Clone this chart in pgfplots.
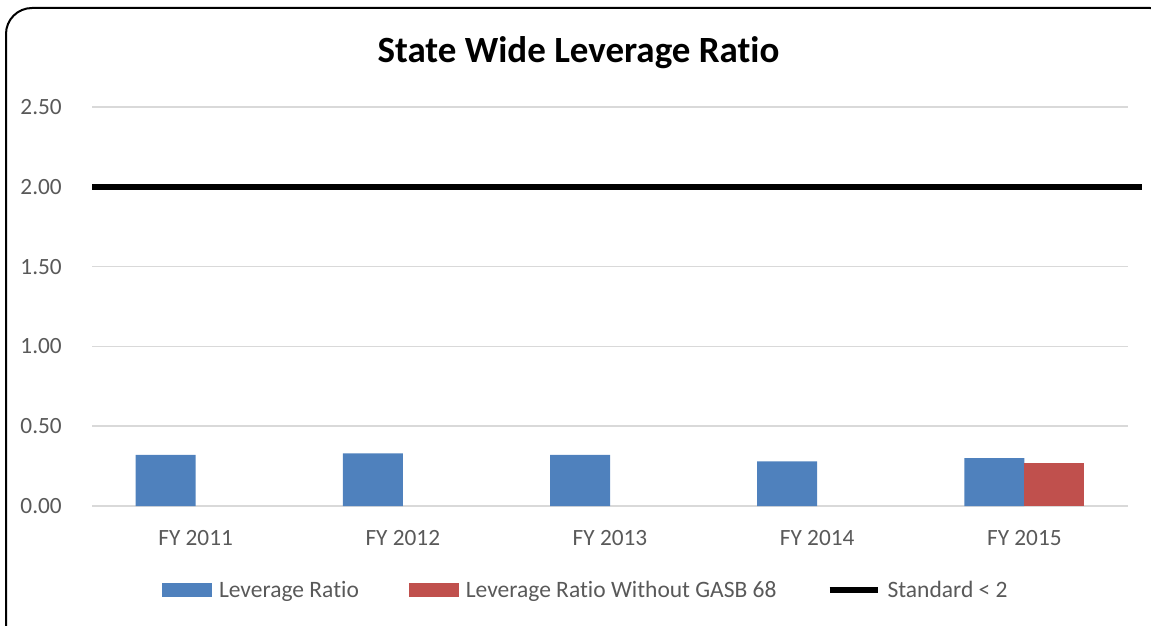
\documentclass[border=0pt]{standalone}
\usepackage{pgfplots}
\pgfplotsset{compat=1.18}
\usepackage{fontspec}
\setmainfont{Carlito}[Ligatures=CommonOff]
\definecolor{barblue}{HTML}{4F81BD}
\definecolor{barred}{HTML}{C0504D}
\definecolor{gridgray}{HTML}{D9D9D9}
\definecolor{txtgray}{HTML}{595959}
\begin{document}
\begin{tikzpicture}
\useasboundingbox (0pt,0pt) rectangle (1151pt,-626pt);
\begin{scope}
\clip (0pt,0pt) rectangle (1151pt,-626pt);
\draw[line width=2pt, rounded corners=26pt] (6pt,-8pt) rectangle (1176pt,-660pt);
\end{scope}
\begin{axis}[
  at={(92pt,-506pt)}, anchor=south west,
  scale only axis,
  width=1036pt, height=399pt,
  xmin=-0.5, xmax=4.5,
  ymin=0, ymax=2.5,
  axis line style={draw=none},
  clip=false,
  xtick={0,1,2,3,4},
  xticklabels={FY 2011, FY 2012, FY 2013, FY 2014, FY 2015},
  ytick={0,0.5,1,1.5,2,2.5},
  yticklabel={\pgfmathprintnumber[fixed,fixed zerofill,precision=2]{\tick}},
  /pgf/number format/assume math mode=true,
  ymajorgrids=true,
  major grid style={draw=gridgray, line width=1.5pt},
  major tick length=0pt,
  tick style={draw=none},
  tick label style={font=\fontsize{23.3}{28}\selectfont, text=txtgray},
  xticklabel style={anchor=base, inner sep=0pt, yshift=-39pt},
  yticklabel style={anchor=east, inner sep=0pt, xshift=-30pt},
  title={State Wide Leverage Ratio},
  title style={at={(0.4696,1.0977)}, anchor=base, inner sep=0pt,
    font=\fontsize{37}{42}\selectfont\bfseries},
  legend columns=3,
  legend style={
    at={(0.4757,-0.2105)}, anchor=center, draw=none, fill=none,
    font=\fontsize{23.5}{28}\selectfont, text=txtgray,
    inner sep=0pt,
    nodes={inner sep=0pt, anchor=base},
    /tikz/every odd column/.append style={column sep=7pt},
    /tikz/every even column/.append style={column sep=50pt},
  },
]
\addplot[ybar, bar width=60pt, bar shift=-30pt, fill=barblue, draw=none,
  legend image code/.code={\fill[barblue] (0pt,0pt) rectangle (50pt,14pt);}]
coordinates {(0,0.32) (1,0.33) (2,0.32) (3,0.28) (4,0.30)};
\addlegendentry{Leverage Ratio}

\addplot[ybar, bar width=60pt, bar shift=30pt, fill=barred, draw=none,
  legend image code/.code={\fill[barred] (0pt,0pt) rectangle (50pt,14pt);}]
coordinates {(4,0.27)};
\addlegendentry{Leverage Ratio Without GASB 68}

\addplot[black, line width=6pt, mark=none,
  legend image code/.code={\draw[black, line width=6pt] (0pt,7pt) -- (48pt,7pt);}]
coordinates {(-0.5,2) (4.568,2)};
\addlegendentry{Standard < 2}
\end{axis}
\end{tikzpicture}
\end{document}
